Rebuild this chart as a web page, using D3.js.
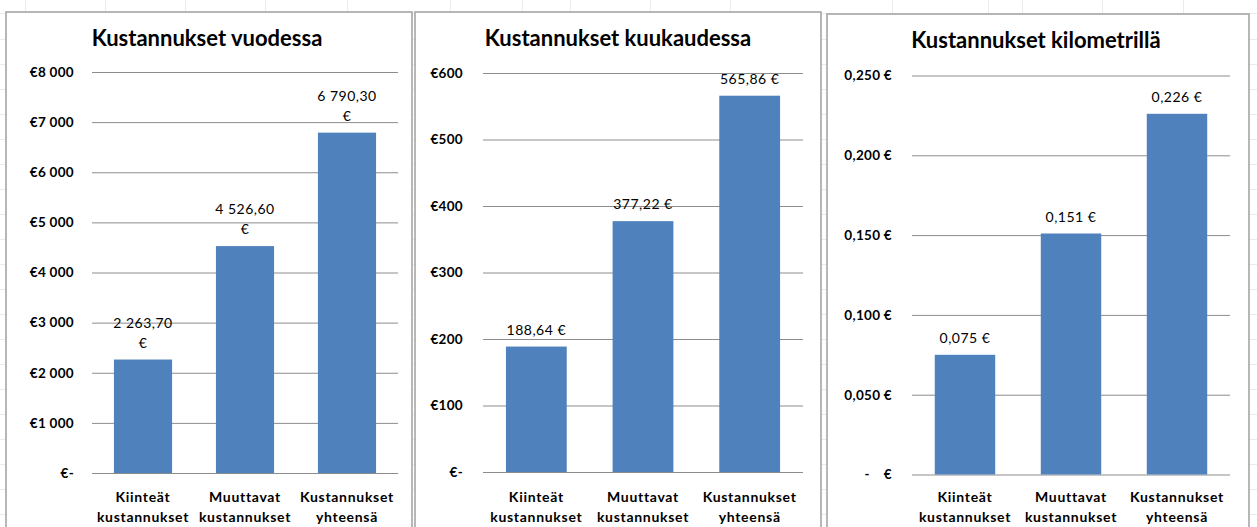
<!DOCTYPE html>
<html>
<head>
<meta charset="utf-8">
<script src="https://cdn.jsdelivr.net/npm/d3@7"></script>
<style>
  html, body { margin: 0; padding: 0; background: #ffffff; }
  svg { display: block; }
  text { font-family: Lato, "Open Sans", sans-serif; fill: #000; }
</style>
</head>
<body>
<svg id="chart" width="1257" height="527"></svg>
<script>
// ---------- data ----------
const categories = [
  ["Kiinteät", "kustannukset"],
  ["Muuttavat", "kustannukset"],
  ["Kustannukset", "yhteensä"]
];
const titles = ["Kustannukset vuodessa", "Kustannukset kuukaudessa", "Kustannukset kilometrillä"];
const yearValues = [2263.70, 4526.60, 6790.30];
const monthValues = [188.64, 377.22, 565.86];
const kmValues = [0.075, 0.151, 0.226];
const yearTicks = [0, 1000, 2000, 3000, 4000, 5000, 6000, 7000, 8000];
const monthTicks = [0, 100, 200, 300, 400, 500, 600];
const kmTicks = [0, 0.05, 0.10, 0.15, 0.20, 0.25];
const sheetColumns = [25, 105, 185, 265, 347, 450, 522, 570, 650, 730, 892, 988, 1022, 1102, 1183];
const sheetRows = [13, 39, 64, 89, 114, 139, 164, 189, 214, 239, 264, 289, 314, 339, 364, 389, 414, 439, 464, 489, 514];

// ---------- formatting ----------
const fi = d3.formatLocale({ decimal: ",", thousands: "\u00a0", grouping: [3], currency: ["", " €"] });
const fmt2 = fi.format(",.2f");
const fmtInt = fi.format(",d");
const fmt3 = fi.format(".3f");

const svg = d3.select("#chart");
const W = 1257, H = 527;

// spreadsheet background grid
const grid = svg.append("g");
grid.selectAll("line.c").data(sheetColumns).join("line")
  .attr("x1", d => d + 0.5).attr("x2", d => d + 0.5).attr("y1", 0).attr("y2", H)
  .attr("stroke", "#ebebeb").attr("stroke-width", 1);
grid.selectAll("line.r").data(sheetRows).join("line")
  .attr("x1", 0).attr("x2", W).attr("y1", d => d + 0.5).attr("y2", d => d + 0.5)
  .attr("stroke", "#ebebeb").attr("stroke-width", 1);

const panels = [
  {
    box: [6, 12, 412],
    title: titles[0], titleX: 207, titleY: 46,
    x: [92, 398], y: [473, 72],
    values: yearValues, ticks: yearTicks,
    tickFmt: d => d === 0 ? "€-" : "€" + fmtInt(d),
    labelLines: d => [fmt2(d), "€"],
    tickRight: 74
  },
  {
    box: [415, 12, 821],
    title: titles[1], titleX: 618, titleY: 46,
    x: [483, 803], y: [472, 73],
    values: monthValues, ticks: monthTicks,
    tickFmt: d => d === 0 ? "€-" : "€" + fmtInt(d),
    labelLines: d => [fmt2(d) + "\u00a0€"],
    tickRight: 463
  },
  {
    box: [827, 14, 1249],
    title: titles[2], titleX: 1036, titleY: 48,
    x: [912, 1230], y: [474.5, 75.5],
    values: kmValues, ticks: kmTicks,
    tickFmt: d => d === 0 ? "-\u2003\u00a0€" : fmt3(d) + " €",
    labelLines: d => [fmt3(d) + "\u00a0€"],
    tickRight: 892
  }
];

panels.forEach(p => {
  const g = svg.append("g");
  const [bx0, by0, bx1] = p.box;
  // panel box
  g.append("rect")
    .attr("x", bx0).attr("y", by0)
    .attr("width", bx1 - bx0).attr("height", H + 20 - by0)
    .attr("fill", "#fff").attr("stroke", "#a6a6a6").attr("stroke-width", 1.6);

  // title
  g.append("text")
    .attr("x", p.titleX).attr("y", p.titleY)
    .attr("text-anchor", "middle")
    .attr("font-weight", "bold").attr("font-size", 22)
    .text(p.title);

  const x = d3.scaleBand().domain(d3.range(categories.length)).range(p.x).paddingInner(0.43).paddingOuter(0.215);
  const y = d3.scaleLinear().domain([0, d3.max(p.ticks)]).range(p.y);

  // gridlines + tick labels
  const yAxis = d3.axisLeft(y).tickValues(p.ticks).tickSize(-(p.x[1] - p.x[0])).tickFormat(p.tickFmt).tickPadding(p.x[0] - p.tickRight);
  const ax = g.append("g").attr("transform", `translate(${p.x[0]},0)`).call(yAxis);
  ax.select(".domain").remove();
  ax.selectAll(".tick line").attr("stroke", "#8c8c8c").attr("stroke-width", 1);
  ax.selectAll(".tick text")
    .attr("font-family", "Lato, 'Open Sans', sans-serif")
    .attr("font-size", 13.5).attr("font-weight", "bold").attr("fill", "#000")
    .attr("letter-spacing", 0.3)
    .attr("xml:space", "preserve").style("white-space", "pre");

  // bars
  g.selectAll("rect.bar").data(p.values).join("rect")
    .attr("class", "bar")
    .attr("x", (d, i) => x(i)).attr("width", x.bandwidth())
    .attr("y", d => y(d)).attr("height", d => y(0) - y(d))
    .attr("fill", "#4f81bd");

  // data labels
  p.values.forEach((v, i) => {
    const lines = p.labelLines(v);
    const cx = x(i) + x.bandwidth() / 2;
    const t = g.append("text")
      .attr("text-anchor", "middle")
      .attr("font-size", 14).attr("letter-spacing", 0.5);
    lines.forEach((ln, k) => {
      t.append("tspan").attr("x", cx)
        .attr("y", y(v) - 12 - (lines.length - 1 - k) * 20)
        .text(ln);
    });
  });

  // category labels
  categories.forEach((lines, i) => {
    const cx = x(i) + x.bandwidth() / 2;
    const t = g.append("text")
      .attr("text-anchor", "middle")
      .attr("font-size", 14).attr("font-weight", "bold")
      .attr("letter-spacing", 0.7);
    lines.forEach((ln, k) => {
      t.append("tspan").attr("x", cx).attr("y", 502 + k * 20).text(ln);
    });
  });
});
</script>
</body>
</html>
